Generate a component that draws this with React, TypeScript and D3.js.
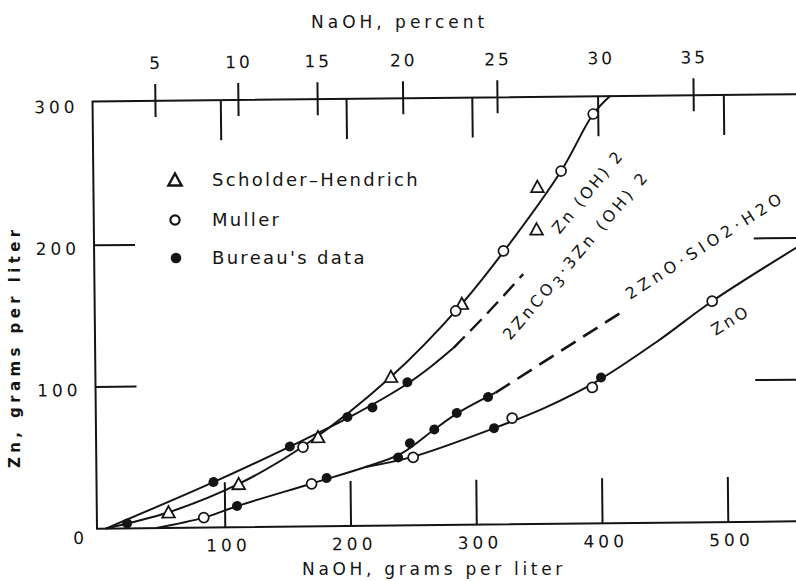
import React from 'react';
import * as d3 from 'd3';

const W = 796;
const H = 581;

// Axis ticks
const xTicks = [100, 200, 300, 400, 500];
const yTickMarks = [100, 200];
const yTickLabels = [100, 200, 300];
const percentLabels = [5, 10, 15, 20, 25, 30, 35];
// NaOH g/L at which each percent tick sits
const percentAt = [48, 114, 177, 245, 320, 402, 476];

// Data points [NaOH g/L, Zn g/L]
const scholder = [
  [55, 11], [111, 30.5], [174.5, 63], [233, 105], [290, 156], [350, 208], [351, 238],
];
const muller = [
  [83, 7], [162.5, 56], [285, 151], [323.5, 193], [370, 249], [396, 289],
  [169, 30], [250, 48], [329, 75], [393, 96], [489, 156],
];
const bureau = [
  [22, 3.5], [91, 32], [152, 56.5], [198, 77], [218, 83.5], [246, 101],
  [109.5, 15], [181, 34], [238, 48], [247.5, 58], [267, 67.5], [285, 79], [310, 90],
  [314.5, 68], [400, 103],
];

// Fitted curves
const curveZnOH2 = [
  [5, 0], [55, 11], [111, 30.5], [165, 58], [233, 105], [287, 153], [324, 193], [370, 249], [396, 289], [410, 302],
];
const curveCarbSolid = [[5, 0], [91, 32], [152, 56.5], [200, 77], [246, 100], [265, 112], [283, 125]];
const curveCarbDash = [[283, 125], [310, 149], [339, 176.5]];
const curveSilSolid = [
  [45, 0], [83, 7], [110, 15], [170, 30.5], [212, 41.5], [240, 50.5], [267, 67.5], [286, 79], [316, 93],
];
const curveSilDash = [[316, 93], [417, 149]];
const curveZnO = [
  [212, 41.5], [250, 48.5], [314.5, 68], [355, 82], [397, 100.5], [445, 128], [489, 156], [558, 194],
];

// Curve labels: position in data units, angle in degrees
const curveLabels = [
  { parts: [{ t: 'Zn (OH) 2' }], x: 391, y: 234.5, angle: -50, ls: 2.7 },
  { parts: [{ t: '2ZnCO' }, { t: '3', sub: true }, { t: '·3Zn (OH) 2' }], x: 381, y: 189.6, angle: -49, ls: 3.4 },
  { parts: [{ t: '2ZnO·SIO2·H2O' }], x: 484, y: 195.7, angle: -32, ls: 4.6 },
  { parts: [{ t: 'ZnO' }], x: 503.5, y: 142.6, angle: -31, ls: 3 },
];

const legendItems = [
  { label: 'Scholder–Hendrich', kind: 'tri' },
  { label: 'Muller', kind: 'open' },
  { label: "Bureau's data", kind: 'filled' },
];

const FONT = "'DejaVu Sans', sans-serif";
const INK = '#141414';

export default function App() {
  const x = d3.scaleLinear().domain([0, 500]).range([97.3, 726.1]);
  const y = d3.scaleLinear().domain([0, 300]).range([525, 100]);
  const xL = x(-2);
  const xR = x(560);
  const yB = y(0);
  const yT = y(301.5);

  const line = d3
    .line<number[]>()
    .x((d) => x(d[0]))
    .y((d) => y(d[1]))
    .curve(d3.curveCatmullRom.alpha(0.5));

  const tri = (cx: number, cy: number, s = 1) =>
    `M${cx},${cy - 6.2 * s}L${cx + 6.3 * s},${cy + 5.2 * s}L${cx - 6.3 * s},${cy + 5.2 * s}Z`;

  const legendY = [180, 220, 258];

  return (
    <svg
      width={W}
      height={H}
      style={{ position: 'absolute', left: 0, top: 0, background: '#fff' }}
      fontFamily={FONT}
    >
      <rect width={W} height={H} fill="#fff" />
      <g transform="rotate(-0.6 445 315)">
        {/* frame */}
        <rect x={xL} y={yT} width={xR - xL} height={yB - yT} fill="none" stroke={INK} strokeWidth={2} />
        {/* bottom ticks */}
        {xTicks.map((t) => (
          <line key={'bt' + t} x1={x(t)} x2={x(t)} y1={yB} y2={yB - 45} stroke={INK} strokeWidth={2} />
        ))}
        {/* top ticks (g/L) */}
        {xTicks.map((t) => (
          <line key={'tt' + t} x1={x(t)} x2={x(t)} y1={yT} y2={yT + 40} stroke={INK} strokeWidth={2} />
        ))}
        {/* left / right ticks */}
        {yTickMarks.map((t) => (
          <g key={'yt' + t}>
            <line x1={xL} x2={xL + 41} y1={y(t)} y2={y(t)} stroke={INK} strokeWidth={2} />
            <line x1={xR} x2={xR - 47} y1={y(t)} y2={y(t)} stroke={INK} strokeWidth={2} />
          </g>
        ))}
        {/* percent ticks */}
        {percentLabels.map((p, i) =>
          p === 30 ? null : (
            <line
              key={'pt' + p}
              x1={x(percentAt[i])}
              x2={x(percentAt[i])}
              y1={yT - 17}
              y2={yT + 16}
              stroke={INK}
              strokeWidth={2}
            />
          )
        )}
        {/* percent labels */}
        {percentLabels.map((p, i) => (
          <text
            key={'pl' + p}
            x={x(percentAt[i]) + 1}
            y={yT - 32}
            fontSize={17}
            letterSpacing={3}
            textAnchor="middle"
            fill={INK}
          >
            {p}
          </text>
        ))}
        {/* bottom labels */}
        {xTicks.map((t) => (
          <text key={'bl' + t} x={x(t) + 3} y={yB + 24} fontSize={17} letterSpacing={4} textAnchor="middle" fill={INK}>
            {t}
          </text>
        ))}
        <text x={x(0) - 21} y={yB + 15} fontSize={17} textAnchor="middle" fill={INK}>
          0
        </text>
        {/* left labels */}
        {yTickLabels.map((t) => (
          <text key={'yl' + t} x={xL - 14} y={y(t) + 9} fontSize={17} letterSpacing={4} textAnchor="end" fill={INK}>
            {t}
          </text>
        ))}

        {/* curves */}
        <path d={line(curveZnOH2) || ''} fill="none" stroke={INK} strokeWidth={2} />
        <path d={line(curveCarbSolid) || ''} fill="none" stroke={INK} strokeWidth={2} />
        <path d={line(curveCarbDash) || ''} fill="none" stroke={INK} strokeWidth={2.4} strokeDasharray="16 8" />
        <path d={line(curveSilSolid) || ''} fill="none" stroke={INK} strokeWidth={2} />
        <path d={line(curveSilDash) || ''} fill="none" stroke={INK} strokeWidth={2.6} strokeDasharray="17 9" />
        <path d={line(curveZnO) || ''} fill="none" stroke={INK} strokeWidth={2} />

        {/* points */}
        {scholder.map((d, i) => (
          <path key={'s' + i} d={tri(x(d[0]), y(d[1]))} fill="#fff" stroke={INK} strokeWidth={1.8} />
        ))}
        {muller.map((d, i) => (
          <circle key={'m' + i} cx={x(d[0])} cy={y(d[1])} r={5} fill="#fff" stroke={INK} strokeWidth={1.7} />
        ))}
        {bureau.map((d, i) => (
          <circle key={'b' + i} cx={x(d[0])} cy={y(d[1])} r={5} fill={INK} />
        ))}

        {/* curve labels */}
        {curveLabels.map((l, i) => (
          <text
            key={'cl' + i}
            transform={`translate(${x(l.x)},${y(l.y)}) rotate(${l.angle})`}
            fontSize={16}
            letterSpacing={l.ls}
            textAnchor="middle"
            dy="0.36em"
            fill={INK}
          >
            {l.parts.map((p: any, j: number) =>
              p.sub ? (
                <tspan key={j} dy="4" fontSize={15}>
                  {p.t}
                </tspan>
              ) : j > 0 && l.parts[j - 1] && (l.parts[j - 1] as any).sub ? (
                <tspan key={j} dy="-4">
                  {p.t}
                </tspan>
              ) : (
                <tspan key={j}>{p.t}</tspan>
              )
            )}
          </text>
        ))}
      </g>

      {/* legend */}
      {legendItems.map((it, i) => (
        <g key={'lg' + i}>
          {it.kind === 'tri' && <path d={tri(175, legendY[i], 1.05)} fill="#fff" stroke={INK} strokeWidth={2.4} />}
          {it.kind === 'open' && <circle cx={175} cy={legendY[i]} r={4.6} fill="#fff" stroke={INK} strokeWidth={2.2} />}
          {it.kind === 'filled' && <circle cx={176} cy={legendY[i]} r={5.3} fill={INK} />}
          <text x={212} y={legendY[i] + 6} fontSize={18} letterSpacing={2.3} fill={INK}>
            {it.label}
          </text>
        </g>
      ))}

      {/* axis titles */}
      <text x={311} y={28} fontSize={17} letterSpacing={4} fill={INK}>
        NaOH, percent
      </text>
      <text x={302} y={575} fontSize={17} letterSpacing={3.7} fill={INK}>
        NaOH, grams per liter
      </text>
      <text
        transform="translate(19.5,468) rotate(-90)"
        fontSize={15}
        fontWeight="bold"
        letterSpacing={4.4}
        fill={INK}
      >
        Zn, grams per liter
      </text>
    </svg>
  );
}
